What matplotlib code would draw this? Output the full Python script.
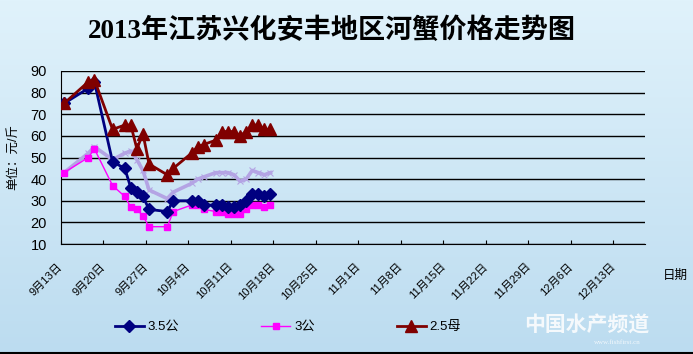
import matplotlib
matplotlib.use("Agg")
import matplotlib.pyplot as plt
import matplotlib.dates as mdates
import numpy as np
import pandas as pd

plt.rcParams['font.family'] = ['Liberation Sans', 'Noto Sans CJK SC']

# price data, 元/斤
dates = ["9-13", "9-17", "9-18", "9-21", "9-23", "9-24", "9-25", "9-26", "9-27",
         "9-30", "10-1", "10-4", "10-5", "10-6", "10-8", "10-9", "10-10", "10-11",
         "10-12", "10-13", "10-14", "10-15", "10-16", "10-17"]
gong35 = [75, 82, 85, 48, 45, 36, 34, 32, 26, 25, 30, 30, 30, 28, 28, 28, 27, 27,
          28, 30, 33, 33, 32, 33]
gong3 = [43, 50, 54, 37, 32, 27, 26, 23, 18, 18, 25, 28, 28, 26, 25, 25, 24, 24,
         24, 26, 28, 28, 27, 28]
mu25 = [75, 85, 86, 63, 65, 65, 54, 61, 47, 42, 45, 52, 55, 56, 58, 62, 62, 62,
        60, 62, 65, 65, 63, 63]
# unlabeled light purple series
other = [43, 52, 55, 49, 52, 53, 49, 44, 35, 31, 34, 38, 40, 41, 43, 43, 43, 42,
         39, 40, 44, 43, 42, 43]

tick_dates = ["9-13", "9-20", "9-27", "10-4", "10-11", "10-18", "10-25", "11-1",
              "11-8", "11-15", "11-22", "11-29", "12-6", "12-13"]

to_dt = lambda s: pd.Timestamp(f"2013-{s}")
x = mdates.date2num([to_dt(d) for d in dates]) + 0.5
ticks = mdates.date2num([to_dt(d) for d in tick_dates])
tick_labels = [f"{to_dt(d).month}月{to_dt(d).day}日" for d in tick_dates]

fig = plt.figure(figsize=(6.93, 3.54), dpi=100)

# gradient background
bg = fig.add_axes([0, 0, 1, 1], zorder=-1)
top = np.array([224, 242, 251]) / 255
bot = np.array([188, 220, 240]) / 255
t = np.linspace(0, 1, 256)[:, None]
grad = (top * (1 - t) + bot * t)[:, None, :]
bg.imshow(grad, aspect="auto", extent=[0, 1, 0, 1])
bg.axis("off")
bg.axhline(0.004, color="black", lw=1.5)

ax = fig.add_axes([61 / 693, 110 / 354, 584 / 693, 173 / 354])
ax.patch.set_alpha(0)

ax.plot(x, other, color="#b4a4e4", lw=2.6, marker="x", ms=5, mew=0.8, zorder=2)
ax.plot(x, gong3, color="#ff00ff", lw=1, marker="s", ms=4, zorder=3, label="3公")
ax.plot(x, gong35, color="#000080", lw=2, marker="D", ms=6, zorder=4, label="3.5公")
ax.plot(x, mu25, color="#800000", lw=2, marker="^", ms=8, zorder=5, label="2.5母")

ax.set_ylim(10, 90)
ax.set_yticks(range(10, 91, 10))
ax.set_xlim(ticks[0], ticks[0] + 96.2)
ax.set_xticks(ticks)
ax.set_xticklabels(tick_labels, rotation=45, ha="right", va="center",
                   rotation_mode="anchor", fontsize=8)
ax.tick_params(axis="x", direction="in", length=3, pad=15)
ax.tick_params(axis="y", length=0, pad=16, labelsize=10.5)
for lab in ax.get_yticklabels():
    lab.set_horizontalalignment("center")
ax.grid(axis="y", color="black", lw=1)
ax.spines["top"].set_visible(False)
ax.spines["right"].set_visible(False)
ax.set_ylabel("单位：元/斤", fontsize=9, labelpad=8)

fig.text(332 / 693, 1 - 31 / 354, "2013年江苏兴化安丰地区河蟹价格走势图",
         ha="center", va="center", fontsize=19.5, fontweight="bold",
         family=["Liberation Serif", "Noto Sans CJK SC"])
fig.text(675 / 693, 1 - 276 / 354, "日期", ha="center", va="center", fontsize=9)

h, l = ax.get_legend_handles_labels()
order = [1, 0, 2]
fig.legend([h[i] for i in order], [l[i] for i in order], ncol=3, frameon=False,
           loc="center", bbox_to_anchor=(288 / 693, 1 - 327 / 354),
           fontsize=9.5, handlelength=2.2, columnspacing=6.2, handletextpad=0.3)

# watermark
fig.text(587 / 693, 1 - 326 / 354, "中国水产频道", ha="center", va="center",
         fontsize=15, color="white", alpha=0.85, fontweight="bold", style="italic")
fig.text(617 / 693, 1 - 342 / 354, "www.fishfirst.cn", ha="center", va="center",
         fontsize=5, color="white", alpha=0.8, family="Liberation Serif")

fig.savefig("out.png", dpi=100)
